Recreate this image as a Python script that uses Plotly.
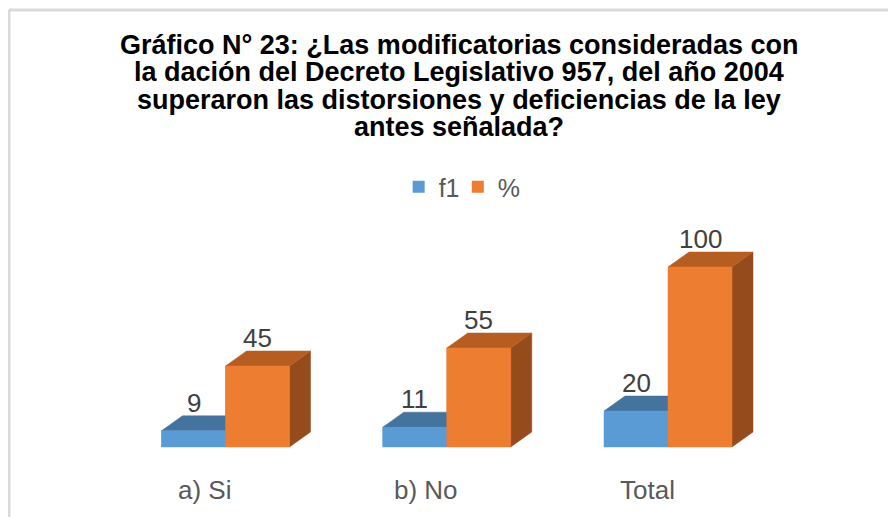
import plotly.graph_objects as go

categories = ["a) Si", "b) No", "Total"]
f1_values = [9, 11, 20]
pct_values = [45, 55, 100]
series_names = ["f1", "%"]

title_lines = [
    "Gráfico N° 23: ¿Las modificatorias consideradas con",
    "la dación del Decreto Legislativo 957, del año 2004",
    "superaron las distorsiones y deficiencias de la ley",
    "antes señalada?",
]

W, H = 896, 517
OFF = 8  # page body offset in the screenshot
# pixel mapping helpers (plot area covers whole figure)
X0_PX, X_SCALE = 225.5 - OFF, 221.25      # px of category 0, px per category
Y0_PX, Y_SCALE = 447.0 - OFF, 1.8         # px of value 0, px per unit
x_range = [-X0_PX / X_SCALE, (W - X0_PX) / X_SCALE]
y_range = [(Y0_PX - H) / Y_SCALE, Y0_PX / Y_SCALE]

BAR_W = 64 / X_SCALE
DX = 21 / X_SCALE
DY = 15 / Y_SCALE

styles = [
    dict(front="#5B9BD5", top="#44739E", side="#3F6B93", offset=-BAR_W / 2, legend="legend"),
    dict(front="#ED7D31", top="#B65E22", side="#964B1C", offset=BAR_W / 2, legend="legend2"),
]

fig = go.Figure()

# legend carriers (bar traces, covered by the front faces)
for name, vals, st in zip(series_names, [f1_values, pct_values], styles):
    fig.add_trace(go.Bar(
        x=list(range(len(categories))), y=vals, name=name,
        width=BAR_W, offset=st["offset"] - BAR_W / 2,
        marker=dict(color=st["front"], line=dict(width=0)),
        hoverinfo="skip", legend=st["legend"],
    ))

def poly(xs, ys, color):
    fig.add_trace(go.Scatter(
        x=xs + [xs[0]], y=ys + [ys[0]], mode="lines", fill="toself",
        fillcolor=color, line=dict(width=0.5, color=color),
        showlegend=False, hoverinfo="skip",
    ))

for vals, st in zip([f1_values, pct_values], styles):
    for i, v in enumerate(vals):
        c = i + st["offset"]
        l, r = c - BAR_W / 2, c + BAR_W / 2
        poly([r, r + DX, r + DX, r], [0, DY, v + DY, v], st["side"])
        poly([l, r, r + DX, l + DX], [v, v, v + DY, v + DY], st["top"])
        poly([l, r, r, l], [0, 0, v, v], st["front"])

FONT = "Liberation Sans, Arial"
annotations = []
for vals, st in zip([f1_values, pct_values], styles):
    for i, v in enumerate(vals):
        annotations.append(dict(
            x=i + st["offset"], y=v + DY, text=str(v), showarrow=False,
            xref="x", yref="y", yanchor="bottom", xanchor="center", yshift=-4,
            font=dict(family=FONT, size=26, color="#404040"),
        ))

for i, cat in enumerate(categories):
    annotations.append(dict(
        x=i, y=(Y0_PX - (490 - OFF)) / Y_SCALE, text=cat, showarrow=False,
        xref="x", yref="y", xanchor="center", yanchor="middle", xshift=-21,
        font=dict(family=FONT, size=26, color="#595959"),
    ))

title_y_px = [45, 72, 100, 127]
for line, ypx in zip(title_lines, title_y_px):
    annotations.append(dict(
        x=(459 - OFF) / W, y=1 - (ypx - OFF) / H, xref="paper", yref="paper",
        text="<b>" + line + "</b>", showarrow=False,
        xanchor="center", yanchor="middle", align="center",
        font=dict(family=FONT, size=27, color="#000000"),
    ))

shapes = [
    dict(type="line", xref="paper", yref="paper", x0=(9 - OFF) / W, x1=1,
         y0=1 - (10 - OFF) / H, y1=1 - (10 - OFF) / H,
         line=dict(color="#D9D9D9", width=3)),
    dict(type="line", xref="paper", yref="paper", x0=(9 - OFF) / W, x1=(9 - OFF) / W,
         y0=0, y1=1 - (10 - OFF) / H,
         line=dict(color="#D9D9D9", width=3)),
]

legend_style = dict(
    orientation="h", y=1 - (187 - OFF) / H, xanchor="left", yanchor="middle",
    font=dict(family=FONT, size=25, color="#595959"),
    itemwidth=30, bgcolor="rgba(0,0,0,0)",
)

fig.update_layout(
    width=W, height=H,
    margin=dict(l=0, r=0, t=0, b=0),
    paper_bgcolor="white", plot_bgcolor="white",
    barmode="overlay",
    showlegend=True,
    legend=dict(x=0.436, **legend_style),
    legend2=dict(x=0.502, **legend_style),
    xaxis=dict(range=x_range, visible=False, fixedrange=True),
    yaxis=dict(range=y_range, visible=False, fixedrange=True),
    annotations=annotations,
    shapes=shapes,
)

fig.write_html("out.html")
